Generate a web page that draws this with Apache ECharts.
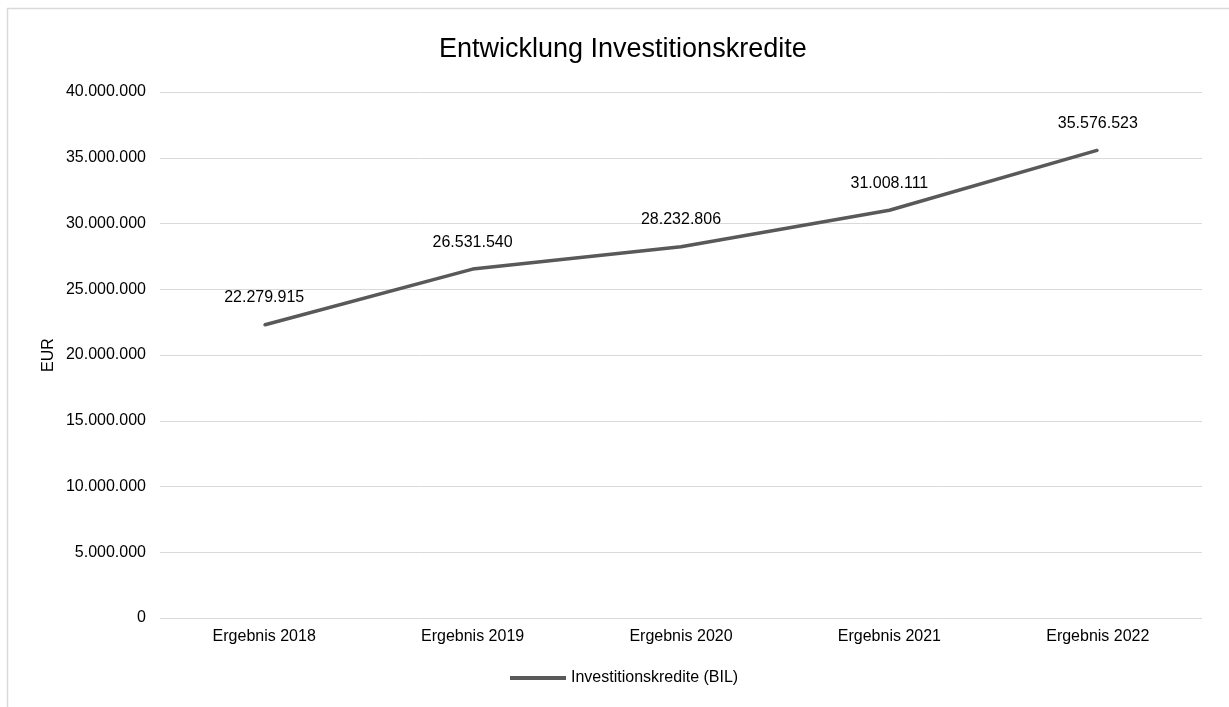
<!DOCTYPE html>
<html>
<head>
<meta charset="utf-8">
<script src="https://cdn.jsdelivr.net/npm/echarts@6/dist/echarts.min.js"></script>
<style>
  html, body { margin: 0; padding: 0; background: #fff; }
  #chart { width: 1229px; height: 707px; }
</style>
</head>
<body>
<div id="chart"></div>
<script>
// Investment loans per result year
const categories = ['Ergebnis 2018', 'Ergebnis 2019', 'Ergebnis 2020', 'Ergebnis 2021', 'Ergebnis 2022'];
const investitionskredite = [22279915, 26531540, 28232806, 31008111, 35576523];
const seriesName = 'Investitionskredite (BIL)';

// German thousands separator
function fmt(v) {
  return String(Math.round(v)).replace(/\B(?=(\d{3})+(?!\d))/g, '.');
}

const chart = echarts.init(document.getElementById('chart'), null, { renderer: 'canvas' });
const font = '"Liberation Sans", Arial, sans-serif';

chart.setOption({
  backgroundColor: '#ffffff',
  animation: false,
  textStyle: { fontFamily: font },
  graphic: [{
    type: 'rect',
    shape: { x: 7.5, y: 8.5, width: 1240, height: 720 },
    style: { fill: 'none', stroke: '#d9d9d9', lineWidth: 1.5 },
    silent: true,
    z: -1
  }],
  title: {
    text: 'Entwicklung Investitionskredite',
    left: 434,
    top: 31,
    textStyle: { fontFamily: font, fontSize: 27, fontWeight: 'normal', color: '#000' }
  },
  legend: {
    data: [seriesName],
    bottom: 16,
    left: 505,
    itemWidth: 56,
    itemHeight: 4,
    itemGap: 4,
    icon: 'rect',
    textStyle: { fontFamily: font, fontSize: 16, color: '#000' }
  },
  grid: { left: 160, right: 27, top: 92, bottom: 89, containLabel: false },
  xAxis: {
    type: 'category',
    data: categories,
    boundaryGap: true,
    axisLine: { show: false },
    axisTick: { show: false },
    axisLabel: { fontFamily: font, fontSize: 16, color: '#000', margin: 11 }
  },
  yAxis: {
    type: 'value',
    min: 0,
    max: 40000000,
    interval: 5000000,
    name: 'EUR',
    nameLocation: 'middle',
    nameGap: 103,
    nameRotate: 90,
    nameMoveOverlap: false,
    nameTextStyle: { fontFamily: font, fontSize: 16, color: '#000' },
    axisLine: { show: false },
    axisTick: { show: false },
    splitLine: { lineStyle: { color: '#d9d9d9', width: 1 } },
    axisLabel: { fontFamily: font, fontSize: 16, color: '#000', margin: 14, formatter: fmt }
  },
  series: [{
    name: seriesName,
    type: 'line',
    data: investitionskredite,
    symbol: 'circle',
    symbolSize: 2,
    showSymbol: true,
    lineStyle: { color: '#595959', width: 3.5 },
    itemStyle: { color: '#595959' },
    label: {
      show: true,
      position: 'top',
      distance: 18,
      fontFamily: font,
      fontSize: 16,
      color: '#000',
      formatter: p => fmt(p.value)
    }
  }]
});
</script>
</body>
</html>
